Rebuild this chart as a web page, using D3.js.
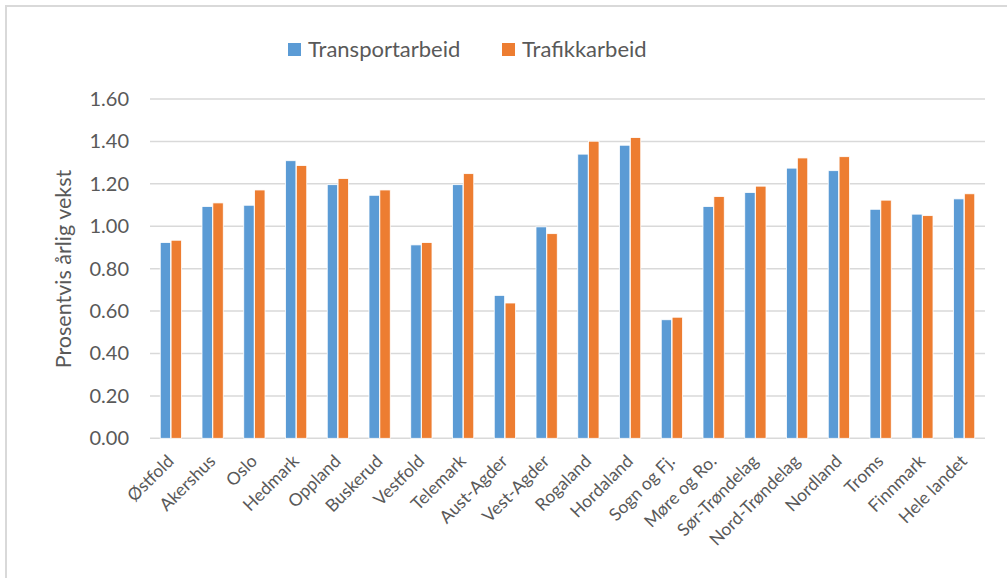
<!DOCTYPE html>
<html>
<head>
<meta charset="utf-8">
<script src="https://cdn.jsdelivr.net/npm/d3@7"></script>
<style>
  html, body { margin: 0; padding: 0; background: #fff; }
  svg { display: block; }
  svg text { font-family: Lato, "Open Sans", sans-serif; }
</style>
</head>
<body>
<svg id="chart" width="1007" height="578"></svg>
<script>
const categories = ["Østfold","Akershus","Oslo","Hedmark","Oppland","Buskerud","Vestfold","Telemark","Aust-Agder","Vest-Agder","Rogaland","Hordaland","Sogn og Fj.","Møre og Ro.","Sør-Trøndelag","Nord-Trøndelag","Nordland","Troms","Finnmark","Hele landet"];
const seriesNames = ["Transportarbeid","Trafikkarbeid"];
const transportarbeid = [0.923,1.093,1.099,1.309,1.196,1.146,0.912,1.196,0.674,0.997,1.340,1.382,0.559,1.093,1.159,1.274,1.262,1.080,1.057,1.129];
const trafikkarbeid   = [0.934,1.110,1.171,1.286,1.225,1.171,0.923,1.248,0.638,0.965,1.401,1.418,0.571,1.140,1.189,1.322,1.328,1.123,1.050,1.153];
const yTicks = [0,0.2,0.4,0.6,0.8,1.0,1.2,1.4,1.6];
const colors = ["#5B9BD5","#ED7D31"];

const svg = d3.select("#chart");
const plotLeft = 150, plotRight = 985, plotTop = 99, plotBottom = 438.3;
const FONT = "Lato, 'Open Sans', sans-serif";

// outer border (only top/left visible in frame)
svg.append("rect").attr("x",6).attr("y",6).attr("width",1010).attr("height",590)
  .attr("fill","none").attr("stroke","#d9d9d9").attr("stroke-width",2);

const y = d3.scaleLinear().domain([0,1.6]).range([plotBottom, plotTop]);
const x0 = d3.scaleBand().domain(categories).range([plotLeft, plotRight]).paddingInner(0.47).paddingOuter(0.235);
const x1 = d3.scaleBand().domain(seriesNames).range([0, x0.bandwidth()]).padding(0.04);

// gridlines
svg.append("g").selectAll("line").data(yTicks).join("line")
  .attr("x1", plotLeft).attr("x2", plotRight)
  .attr("y1", d => y(d)).attr("y2", d => y(d))
  .attr("stroke", "#d9d9d9").attr("stroke-width", 1.5);

// y axis ticks
const yAxis = d3.axisLeft(y).tickValues(yTicks).tickFormat(d3.format(".2f")).tickSize(0).tickPadding(21);
const yg = svg.append("g").attr("transform", `translate(${plotLeft},0)`).call(yAxis)
  .attr("font-family", FONT).attr("font-size", 20);
yg.select(".domain").remove();
yg.selectAll("text").attr("fill","#595959");

// bars
const data = categories.map((c,i) => ({c, vals:[transportarbeid[i], trafikkarbeid[i]]}));
const groups = svg.append("g").selectAll("g").data(data).join("g")
  .attr("transform", d => `translate(${x0(d.c)},0)`);
groups.selectAll("rect").data(d => d.vals.map((v,j)=>({v, s:seriesNames[j], j}))).join("rect")
  .attr("x", d => x1(d.s))
  .attr("width", x1.bandwidth())
  .attr("y", d => y(d.v))
  .attr("height", d => y(0) - y(d.v))
  .attr("fill", d => colors[d.j])
  .attr("stroke", "#fff").attr("stroke-width", 0.8);

// x axis labels
const xAxis = d3.axisBottom(x0).tickSize(0).tickPadding(0);
const xg = svg.append("g").attr("transform", `translate(0,${plotBottom})`).call(xAxis)
  .attr("font-family", FONT).attr("font-size", 17.5);
xg.select(".domain").remove();
xg.selectAll(".tick text")
  .attr("fill","#595959")
  .attr("text-anchor","end")
  .attr("dy", null).attr("y", null)
  .attr("transform","translate(4,24) rotate(-45)");

// y axis title
svg.append("text")
  .attr("transform", "translate(71,269) rotate(-90)")
  .attr("text-anchor","middle")
  .attr("fill","#595959").attr("font-size","21.5px")
  .text("Prosentvis årlig vekst");

// legend
const legendX = [288, 502];
const lg = svg.append("g").selectAll("g").data(seriesNames).join("g")
  .attr("transform", (d,i) => `translate(${legendX[i]},43)`);
lg.append("rect").attr("width",13).attr("height",13).attr("fill",(d,i)=>colors[i]);
lg.append("text").attr("x",20).attr("y",14).attr("fill","#595959").attr("font-size","22px").text(d=>d);
</script>
</body>
</html>
